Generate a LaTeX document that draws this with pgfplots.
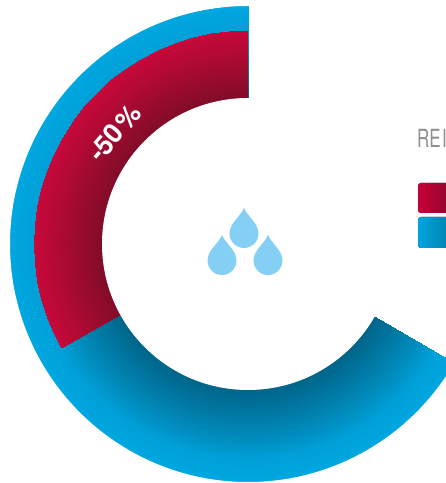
\documentclass[border=0pt]{standalone}
\usepackage{pgfplots}
\usepackage{pgfplotstable}
\usepackage{fontspec}
\setmainfont{TeX Gyre Heros}
\pgfplotsset{compat=1.18}
\definecolor{dropblue}{RGB}{132,208,245}
\definecolor{legendgray}{RGB}{142,142,142}
\pgfplotsset{
  colormap={ringblue}{rgb255(0)=(0,100,136) rgb255(50)=(0,138,186) rgb255(75)=(0,160,216) rgb255(100)=(0,167,224)},
  colormap={ringred}{rgb255(0)=(128,12,40) rgb255(50)=(178,10,52) rgb255(72)=(198,8,58) rgb255(100)=(200,8,58)},
}
% Angle (degrees) and radius of the edges of each ring sector.
\pgfplotstableread[row sep=\\]{
a r\\
90 145\\ 90 239\\ 95 145\\ 95 239\\ 100 145\\ 100 239\\ 105 145\\ 105 239\\
110 145\\ 110 239\\ 115 145\\ 115 239\\ 120 145\\ 120 239\\ 125 145\\ 125 239\\
130 145\\ 130 239\\ 135 145\\ 135 239\\ 140 145\\ 140 239\\ 145 145\\ 145 239\\
150 145\\ 150 239\\ 155 145\\ 155 239\\ 160 145\\ 160 239\\ 165 145\\ 165 239\\
170 145\\ 170 239\\ 175 145\\ 175 239\\ 180 145\\ 180 239\\ 185 145\\ 185 239\\
190 145\\ 190 239\\ 195 145\\ 195 239\\ 200 145\\ 200 239\\ 205 145\\ 205 239\\
210 145\\ 210 239\\ 215 145\\ 215 239\\ 220 145\\ 220 239\\ 225 145\\ 225 239\\
230 145\\ 230 239\\ 235 145\\ 235 239\\ 240 145\\ 240 239\\ 245 145\\ 245 239\\
250 145\\ 250 239\\ 255 145\\ 255 239\\ 260 145\\ 260 239\\ 265 145\\ 265 239\\
270 145\\ 270 239\\ 275 145\\ 275 239\\ 280 145\\ 280 239\\ 285 145\\ 285 239\\
290 145\\ 290 239\\ 295 145\\ 295 239\\ 300 145\\ 300 239\\ 305 145\\ 305 239\\
310 145\\ 310 239\\ 315 145\\ 315 239\\ 320 145\\ 320 239\\ 325 145\\ 325 239\\
330 145\\ 330 239\\
}\bluesector
\pgfplotstableread[row sep=\\]{
a r\\
90 145\\ 90 214\\ 95 145\\ 95 214\\ 100 145\\ 100 214\\ 105 145\\ 105 214\\
110 145\\ 110 214\\ 115 145\\ 115 214\\ 120 145\\ 120 214\\ 125 145\\ 125 214\\
130 145\\ 130 214\\ 135 145\\ 135 214\\ 140 145\\ 140 214\\ 145 145\\ 145 214\\
150 145\\ 150 214\\ 155 145\\ 155 214\\ 160 145\\ 160 214\\ 165 145\\ 165 214\\
170 145\\ 170 214\\ 175 145\\ 175 214\\ 180 145\\ 180 214\\ 185 145\\ 185 214\\
190 145\\ 190 214\\ 195 145\\ 195 214\\ 200 145\\ 200 214\\ 205 145\\ 205 214\\
209 145\\ 209 214\\
}\redsector
% One water drop: tip at the given point, body of radius 14.5.
\newcommand{\waterdrop}[2]{%
  \fill[dropblue] (#1,#2) .. controls (#1+3,#2+8) and (#1+14.5,#2+15) .. (#1+14.5,#2+25.5)
    arc[start angle=0,end angle=180,radius=14.5]
    .. controls (#1-14.5,#2+15) and (#1-3,#2+8) .. (#1,#2) -- cycle;}
\begin{document}
\begin{tikzpicture}
\clip (0,0) rectangle (446pt,483pt);
\begin{axis}[
  at={(0,0)}, anchor=south west,
  scale only axis, width=446pt, height=483pt,
  xmin=-248, xmax=198, ymin=-239, ymax=244,
  view={0}{90}, hide axis,
]
\addplot3[surf, shader=interp, colormap name=ringblue, mesh/rows=49,
  point meta=explicit, point meta min=145, point meta max=239]
  table[x expr=\thisrow{r}*cos(\thisrow{a}), y expr=\thisrow{r}*sin(\thisrow{a}), z=r, meta=r] {\bluesector};
\addplot3[surf, shader=interp, colormap name=ringred, mesh/rows=25,
  point meta=explicit, point meta min=145, point meta max=214]
  table[x expr=\thisrow{r}*cos(\thisrow{a}), y expr=\thisrow{r}*sin(\thisrow{a}), z=r, meta=r] {\redsector};
\end{axis}
% Annotations, placed with the origin at the top left corner and y downward.
\begin{scope}[yshift=483pt, x=1pt, y=-1pt]
  % Round off the ring's inner and outer edges.
  \fill[white] (248,244) circle[radius=146];
  \fill[white, even odd rule] (248,244) circle[radius=238] (-2,-2) rectangle (450,487);
  \node[white, rotate=49, font=\fontsize{27}{27}\selectfont\bfseries, inner sep=0pt] at (114.5,133) {-50\kern2.5pt\%};
  \waterdrop{244}{208}
  \waterdrop{222}{235}
  \waterdrop{268}{235}
  \node[legendgray, anchor=base west, inner sep=0pt, xscale=0.68, font=\fontsize{25}{25}\selectfont] at (417,148) {RE\kern2ptI};
  \fill[rounded corners=3pt, left color={rgb,255:red,200;green,0;blue,58}, right color={rgb,255:red,130;green,10;blue,40}]
    (418,183) rectangle (458,213);
  \fill[rounded corners=3pt, left color={rgb,255:red,0;green,165;blue,222}, right color={rgb,255:red,0;green,120;blue,160}]
    (418,217) rectangle (458,248);
\end{scope}
\end{tikzpicture}
\end{document}
